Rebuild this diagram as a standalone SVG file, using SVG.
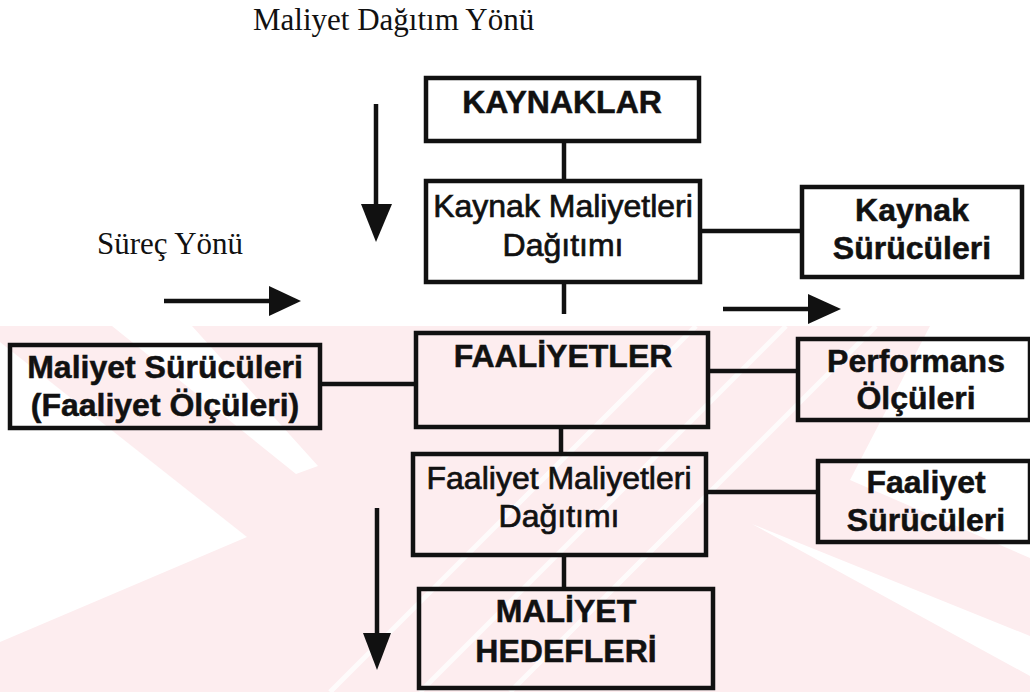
<svg xmlns="http://www.w3.org/2000/svg" width="1030" height="692" viewBox="0 0 1030 692">
  <style>
    .box{fill:none;stroke:#111;stroke-width:4.5}
    .ln{stroke:#111;stroke-width:4.5;fill:none}
    .head{fill:#111}
    .b{font-family:"Liberation Sans",Arial,sans-serif;font-weight:bold;font-size:32px;fill:#111;stroke:#111;stroke-width:0.5;text-anchor:middle}
    .r{font-family:"Liberation Sans",Arial,sans-serif;font-size:32px;fill:#111;stroke:#111;stroke-width:0.7;text-anchor:middle}
    .s{font-family:"Liberation Serif","Times New Roman",serif;font-size:31px;fill:#111}
    .wm{fill:#fdedef}
    .gap{fill:#fff}
    .streak{stroke:#fff;stroke-width:5;opacity:0.8}
  </style>
  <rect width="1030" height="692" fill="#fff"/>

  <!-- faint background emblem: pink field with white gaps and streaks -->
  <g id="watermark">
    <rect class="wm" x="0" y="326" width="1030" height="366"/>
    <polygon class="gap" points="0,342 247,537 0,642"/>
    <polygon class="gap" points="112,326 192,326 318,466 296,474"/>
    <polygon class="gap" points="752,524 1030,636 1030,676"/>
    <polygon class="gap" points="930,326 1030,326 1030,558 850,480"/>
    <line class="streak" x1="330" y1="692" x2="696" y2="326"/>
    <line class="streak" x1="420" y1="692" x2="786" y2="326"/>
    <line class="streak" x1="510" y1="692" x2="876" y2="326"/>
  </g>

  <!-- direction labels and arrows -->
  <g id="directions">
    <text class="s" x="253" y="30">Maliyet Dağıtım Yönü</text>
    <text class="s" x="97" y="254">Süreç Yönü</text>
    <line class="ln" x1="376" y1="104" x2="376" y2="206"/>
    <polygon class="head" points="361,204 392,204 376,242"/>
    <line class="ln" x1="164" y1="301" x2="272" y2="301"/>
    <polygon class="head" points="269,286 269,316 301,301"/>
    <line class="ln" x1="723" y1="309" x2="811" y2="309"/>
    <polygon class="head" points="808,294 808,324 841,309"/>
    <line class="ln" x1="377" y1="508" x2="377" y2="636"/>
    <polygon class="head" points="363,633 391,633 377,670"/>
  </g>

  <!-- connectors -->
  <g id="connectors">
    <line class="ln" x1="564" y1="141" x2="564" y2="181"/>
    <line class="ln" x1="700" y1="231" x2="801" y2="231"/>
    <line class="ln" x1="564" y1="282" x2="564" y2="314"/>
    <line class="ln" x1="320" y1="384" x2="416" y2="384"/>
    <line class="ln" x1="708" y1="371" x2="798" y2="371"/>
    <line class="ln" x1="561" y1="427" x2="561" y2="454"/>
    <line class="ln" x1="706" y1="492" x2="818" y2="492"/>
    <line class="ln" x1="564" y1="555" x2="564" y2="589"/>
  </g>

  <g id="kaynaklar">
    <rect class="box" x="426" y="78" width="273" height="63"/>
    <text class="b" x="562" y="113">KAYNAKLAR</text>
  </g>

  <g id="kaynak-maliyetleri">
    <rect class="box" x="426" y="181" width="274" height="101"/>
    <text class="r" x="563" y="217">Kaynak Maliyetleri</text>
    <text class="r" x="563" y="256">Dağıtımı</text>
  </g>

  <g id="kaynak-suruculeri">
    <rect class="box" x="802" y="187" width="220" height="90"/>
    <text class="b" x="912" y="221">Kaynak</text>
    <text class="b" x="912" y="259">Sürücüleri</text>
  </g>

  <g id="faaliyetler">
    <rect class="box" x="416" y="333" width="292" height="94"/>
    <text class="b" x="563" y="367">FAALİYETLER</text>
  </g>

  <g id="maliyet-suruculeri">
    <rect class="box" x="10" y="345" width="310" height="83"/>
    <text class="b" x="165" y="378">Maliyet Sürücüleri</text>
    <text class="b" x="165" y="416">(Faaliyet Ölçüleri)</text>
  </g>

  <g id="performans-olculeri">
    <rect class="box" x="798" y="339" width="232" height="81"/>
    <text class="b" x="916" y="372">Performans</text>
    <text class="b" x="916" y="409">Ölçüleri</text>
  </g>

  <g id="faaliyet-maliyetleri">
    <rect class="box" x="413" y="454" width="293" height="101"/>
    <text class="r" x="559" y="489">Faaliyet Maliyetleri</text>
    <text class="r" x="559" y="527">Dağıtımı</text>
  </g>

  <g id="faaliyet-suruculeri">
    <rect class="box" x="818" y="461" width="212" height="81"/>
    <text class="b" x="926" y="493">Faaliyet</text>
    <text class="b" x="926" y="531">Sürücüleri</text>
  </g>

  <g id="maliyet-hedefleri">
    <rect class="box" x="419" y="589" width="294" height="99"/>
    <text class="b" x="566" y="622">MALİYET</text>
    <text class="b" x="566" y="662">HEDEFLERİ</text>
  </g>
</svg>
